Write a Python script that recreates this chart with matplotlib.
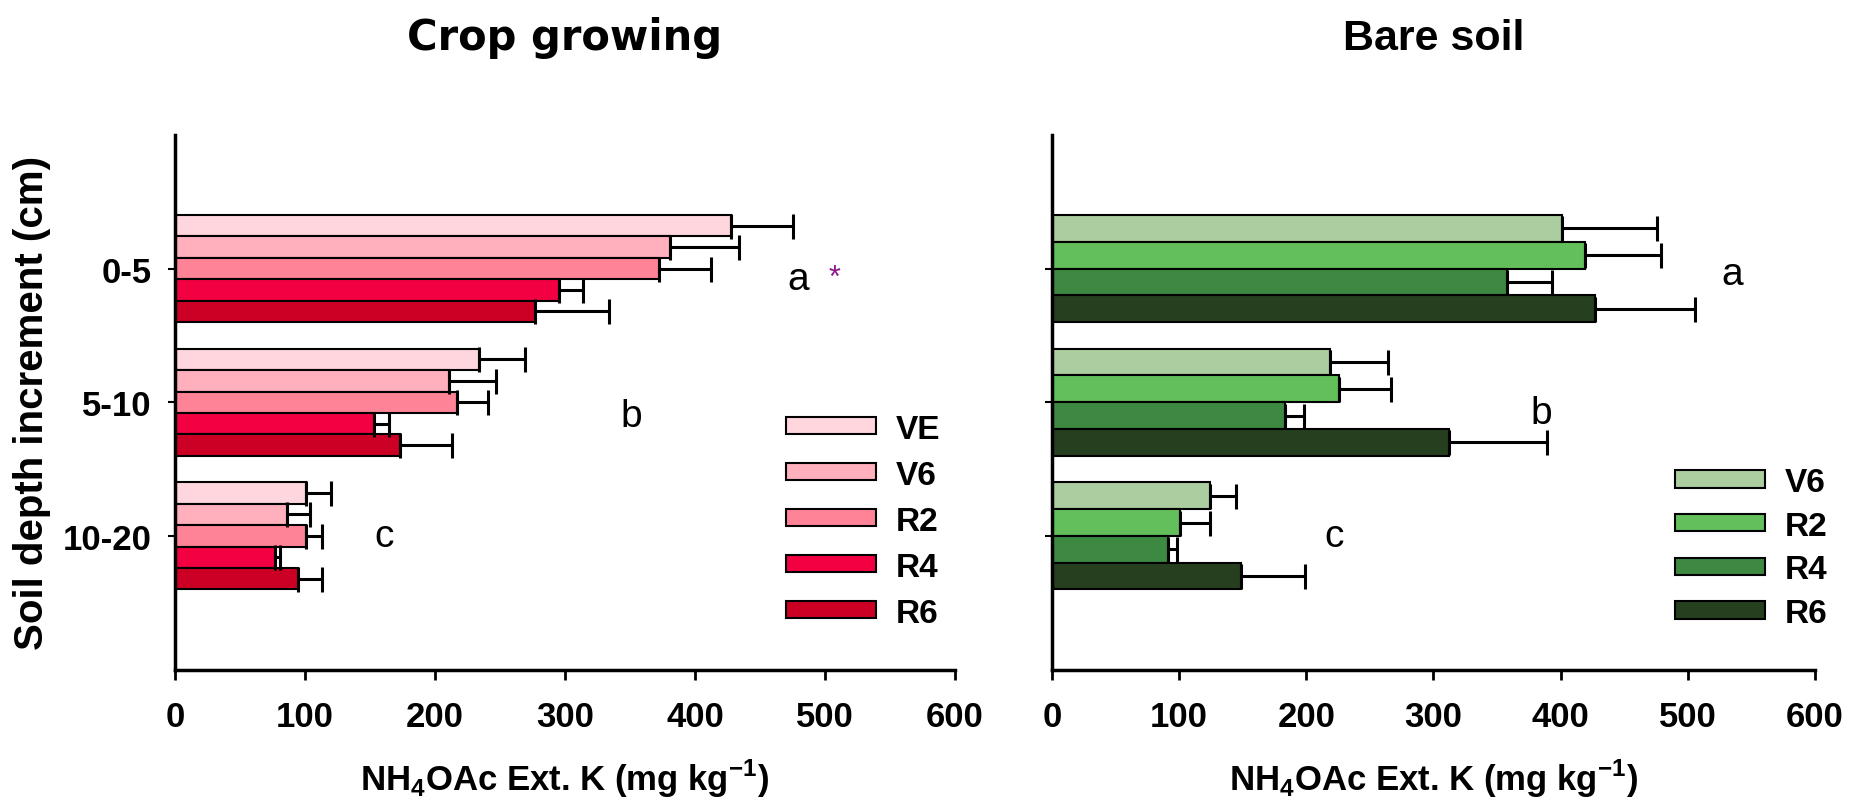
import matplotlib.pyplot as plt
import numpy as np

plt.rcParams['font.family'] = ['Liberation Sans', 'DejaVu Sans']
plt.rcParams['mathtext.fontset'] = 'custom'
plt.rcParams['mathtext.rm'] = 'Liberation Sans'
plt.rcParams['mathtext.bf'] = 'Liberation Sans:bold'

depths = ['0-5', '5-10', '10-20']

# Crop growing (K, mg/kg) and upper error
crop_stages = ['VE', 'V6', 'R2', 'R4', 'R6']
crop_colors = ['#FFD6DD', '#FFB0BC', '#FF8396', '#F20041', '#CC0024']
crop_vals = {
    'VE': [428, 234, 101],
    'V6': [381, 211, 86],
    'R2': [372, 217, 101],
    'R4': [295, 153, 77],
    'R6': [277, 173, 95],
}
crop_err = {
    'VE': [47, 35, 19],
    'V6': [53, 36, 18],
    'R2': [40, 24, 12],
    'R4': [19, 12, 4],
    'R6': [57, 40, 18],
}
crop_letters = ['a', 'b', 'c']
crop_letter_x = [479, 351, 161]

# Bare soil
bare_stages = ['V6', 'R2', 'R4', 'R6']
bare_colors = ['#ABCD9F', '#63BF5B', '#3D8941', '#253F1F']
bare_vals = {
    'V6': [401, 219, 124],
    'R2': [419, 226, 101],
    'R4': [358, 183, 91],
    'R6': [427, 312, 149],
}
bare_err = {
    'V6': [75, 45, 21],
    'R2': [60, 41, 23],
    'R4': [35, 15, 7],
    'R6': [79, 77, 50],
}
bare_letters = ['a', 'b', 'c']
bare_letter_x = [535, 385, 222]

fig = plt.figure(figsize=(18.51, 8.04), dpi=100)
ax1 = fig.add_axes([0.0945, 0.166, 0.4215, 0.665])
ax2 = fig.add_axes([0.5683, 0.166, 0.4122, 0.665])

bold = dict(fontweight='bold', fontsize=25)


def draw_panel(ax, stages, colors, vals, errs, group=0.8):
    n = len(stages)
    h = group / n
    y = np.arange(len(depths))
    for i, s in enumerate(stages):
        pos = y + (i - (n - 1) / 2) * h
        ax.barh(pos, vals[s], height=h, color=colors[i], edgecolor='black',
                linewidth=1.5, label=s, zorder=2)
        ax.errorbar(vals[s], pos, xerr=[np.zeros(len(depths)), errs[s]],
                    fmt='none', ecolor='black', elinewidth=2.2, capsize=9,
                    capthick=2.2, zorder=3)
    ax.set_xlim(0, 600)
    ax.set_ylim(3, -1)
    ax.set_yticks(y)
    ax.set_xticks(range(0, 601, 100))
    for sp in ['top', 'right']:
        ax.spines[sp].set_visible(False)
    for sp in ['left', 'bottom']:
        ax.spines[sp].set_linewidth(2.5)
    ax.tick_params(axis='x', length=7, width=2, pad=15, labelsize=25)
    ax.tick_params(axis='y', length=5, width=1.5, pad=12, labelsize=25)
    for lab in ax.get_xticklabels() + ax.get_yticklabels():
        lab.set_fontweight('bold')
    ax.set_xlabel(r'NH$_{\mathbf{4}}$OAc Ext. K (mg kg$^{\mathbf{-1}}$)',
                  labelpad=17, **bold)


draw_panel(ax1, crop_stages, crop_colors, crop_vals, crop_err)
draw_panel(ax2, bare_stages, bare_colors, bare_vals, bare_err)
ax1.set_yticklabels(depths)
ax2.set_yticklabels([])
ax1.set_ylabel('Soil depth increment (cm)', labelpad=8, fontweight='bold',
               fontsize=29)

for ax, letters, lx, dy in [(ax1, crop_letters, crop_letter_x, [0.08, 0.1, 0.0]),
                            (ax2, bare_letters, bare_letter_x, [0.04, 0.08, 0.0])]:
    for j, (t, x) in enumerate(zip(letters, lx)):
        ax.text(x, j + dy[j], t, fontsize=28, ha='center', va='center')
ax1.text(507, 0.07, '*', color='#8B1A8B', fontsize=22, ha='center', va='center')

ax1.set_title('Crop growing', family='DejaVu Sans', fontweight='bold',
              fontsize=30, pad=62)
ax2.set_title('Bare soil', fontweight='bold', fontsize=31, pad=62)

leg_kw = dict(frameon=False, handlelength=2.7, handleheight=0.42,
              handletextpad=0.6, labelspacing=0.45, borderpad=0,
              prop={'weight': 'bold', 'size': 24})
ax1.legend(loc='upper left', bbox_to_anchor=(0.762, 0.51), **leg_kw)
leg_kw['labelspacing'] = 0.38
ax2.legend(loc='upper left', bbox_to_anchor=(0.795, 0.41), **leg_kw)

plt.savefig('out.png', dpi=100)
